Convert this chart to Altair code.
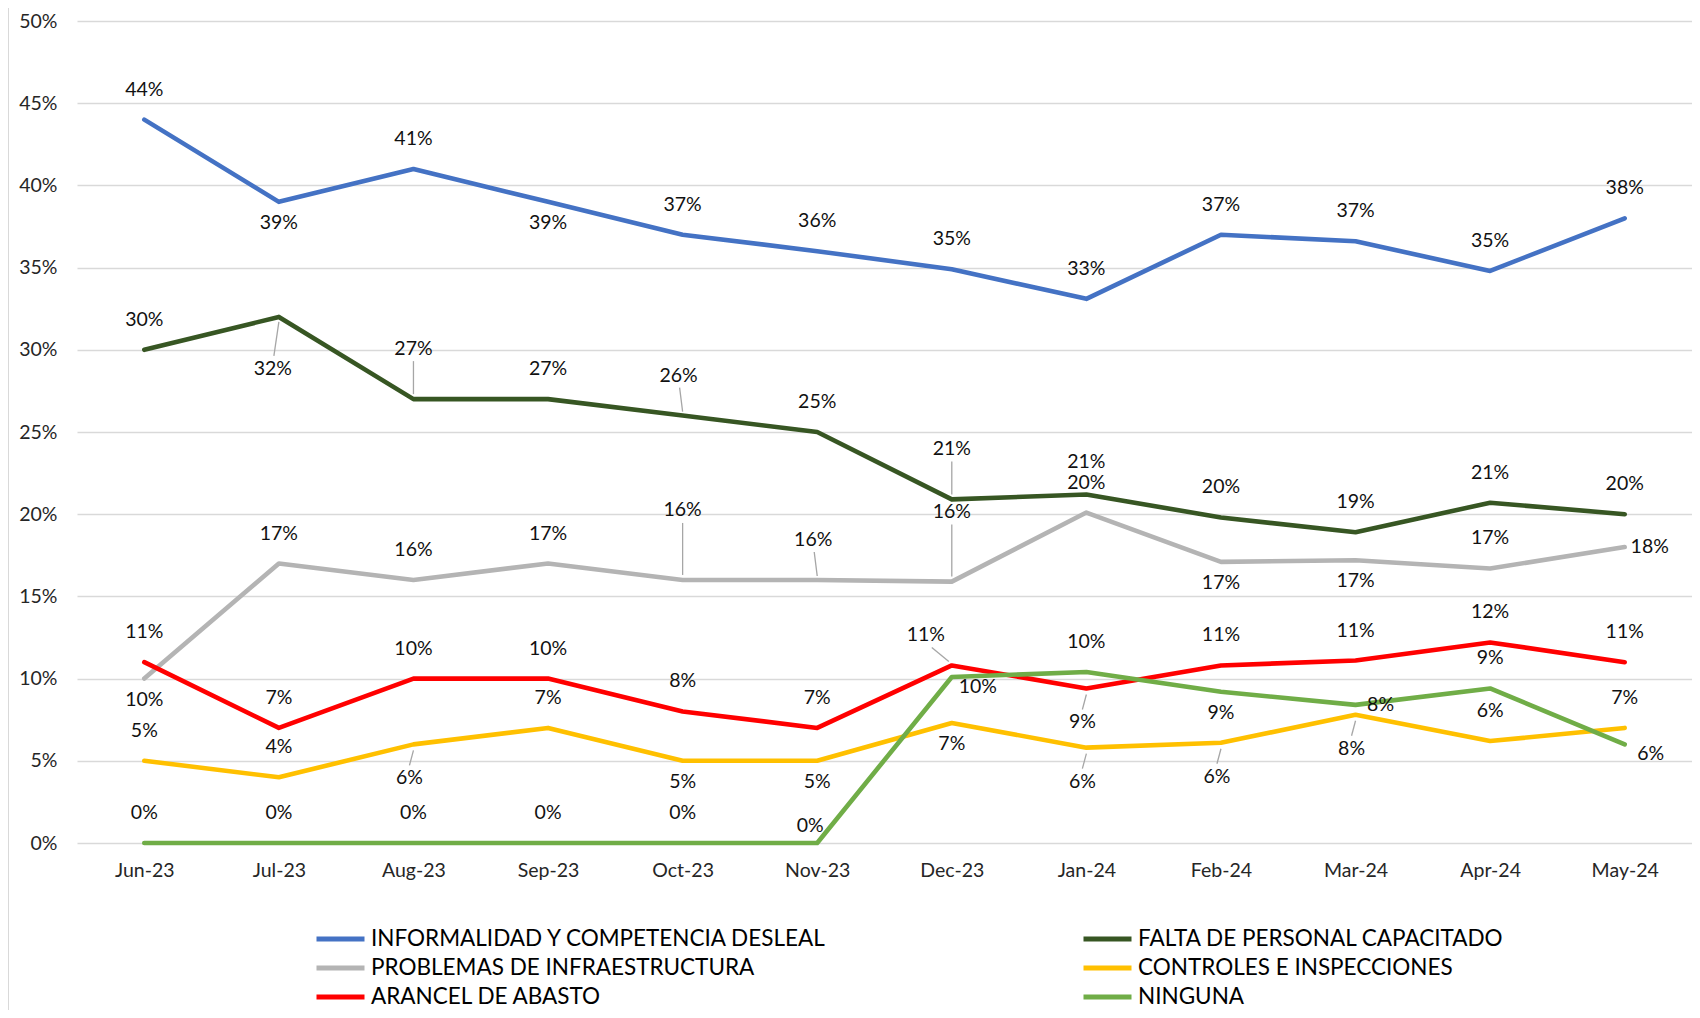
import altair as alt
import pandas as pd

months = ["Jun-23", "Jul-23", "Aug-23", "Sep-23", "Oct-23", "Nov-23",
          "Dec-23", "Jan-24", "Feb-24", "Mar-24", "Apr-24", "May-24"]

# legend order (filled column by column)
series_names = [
    "INFORMALIDAD Y COMPETENCIA DESLEAL",
    " PROBLEMAS DE INFRAESTRUCTURA",
    "ARANCEL DE ABASTO",
    "FALTA DE PERSONAL CAPACITADO",
    "CONTROLES E INSPECCIONES",
    "NINGUNA",
]
series_colors = ["#4472C4", "#B4B4B4", "#FF0000", "#375623", "#FFC000", "#70AD47"]

informalidad = [0.440, 0.390, 0.410, 0.390, 0.370, 0.360, 0.349, 0.331, 0.370, 0.366, 0.348, 0.380]
falta = [0.300, 0.320, 0.270, 0.270, 0.260, 0.250, 0.209, 0.212, 0.198, 0.189, 0.207, 0.200]
problemas = [0.100, 0.170, 0.160, 0.170, 0.160, 0.160, 0.159, 0.201, 0.171, 0.172, 0.167, 0.180]
controles = [0.050, 0.040, 0.060, 0.070, 0.050, 0.050, 0.073, 0.058, 0.061, 0.078, 0.062, 0.070]
arancel = [0.110, 0.070, 0.100, 0.100, 0.080, 0.070, 0.108, 0.094, 0.108, 0.111, 0.122, 0.110]
ninguna = [0.0, 0.0, 0.0, 0.0, 0.0, 0.0, 0.101, 0.104, 0.092, 0.084, 0.094, 0.060]

# label placement codes per point
place_informalidad = ["a", "b", "a", "b", "a", "a", "a", "a", "a", "a", "a", "a"]
place_falta = ["a", "BB", "A", "a", "m", "a", "A", "a2", "a", "a", "a", "a"]
place_problemas = ["b", "a", "a", "a", "AA", "m", "AA", "a", "b", "b", "a", "r"]
place_controles = ["a", "a", "B", "a", "b", "b", "b", "B", "B", "B", "a", "a"]
place_arancel = ["a", "a", "a", "a", "a", "a", "al", "B", "a", "a", "a", "a"]
place_ninguna = ["a", "a", "a", "a", "a", "n", "rb", "a", "b", "r", "a", "rb"]

# drawing order (Excel series order)
draw_series = [
    ("INFORMALIDAD Y COMPETENCIA DESLEAL", informalidad, place_informalidad),
    ("FALTA DE PERSONAL CAPACITADO", falta, place_falta),
    (" PROBLEMAS DE INFRAESTRUCTURA", problemas, place_problemas),
    ("CONTROLES E INSPECCIONES", controles, place_controles),
    ("ARANCEL DE ABASTO", arancel, place_arancel),
    ("NINGUNA", ninguna, place_ninguna),
]

rows = []
for k, (name, vals, pl) in enumerate(draw_series):
    for m, v, p in zip(months, vals, pl):
        rows.append({"month": m, "series": name, "value": v, "code": p, "order": k})
df = pd.DataFrame(rows)

# placement styles: code -> (dx, dy, leader)  leader=(x1, y1, x2, y2) offsets
PLACEMENT = {
    "a": (0, -30, None),
    "a2": (0, -32, None),
    "b": (0, 21, None),
    "A": (0, -50, (0, -5, 0, -38)),
    "AA": (0, -70, (0, -5, 0, -57)),
    "m": (-4, -40, (0, -4, -3, -28)),
    "B": (-4, 34, (0, 6, -4, 21)),
    "BB": (-6, 52, (0, 5, -5, 39)),
    "r": (25, 0, None),
    "rb": (26, 10, None),
    "al": (-26, -30, (-3, -4, -20, -18)),
    "n": (-7, -17, None),
}

FONT = "Lato"
X = alt.X("month:O", sort=months,
          scale=alt.Scale(type="point", padding=0.5),
          axis=alt.Axis(title=None, labelAngle=0, ticks=False, domain=False,
                        labelFontSize=19.5, labelFont=FONT, labelColor="#262626",
                        labelPadding=18, grid=False))
Y = alt.Y("value:Q",
          scale=alt.Scale(domain=[0, 0.5], nice=False, zero=True),
          axis=alt.Axis(title=None, format=".0%",
                        values=[0, 0.05, 0.1, 0.15, 0.2, 0.25, 0.3, 0.35, 0.4, 0.45, 0.5],
                        ticks=False, domain=False, grid=True, gridColor="#D9D9D9",
                        gridWidth=1.5, labelFontSize=19.5, labelFont=FONT,
                        labelColor="#262626", labelPadding=20))

base = alt.Chart(df)

lines = base.mark_line(strokeWidth=4.6, strokeJoin="round", strokeCap="round").encode(
    x=X, y=Y,
    color=alt.Color("series:N",
                    scale=alt.Scale(domain=series_names, range=series_colors),
                    legend=alt.Legend(
                        title=None, orient="none", legendX=237, legendY=904,
                        columns=2, columnPadding=253, rowPadding=1, clipHeight=28,
                        symbolType="stroke", symbolSize=2304, symbolStrokeWidth=5,
                        labelFontSize=22.5, labelFont=FONT, labelColor="#000000",
                        labelLimit=1000, labelOffset=4, padding=0)),
    detail="series:N",
    order=alt.Order("order:Q"),
)

layers = [lines]
for code, (dx, dy, leader) in PLACEMENT.items():
    sub = base.transform_filter(alt.datum.code == code)
    if leader is not None:
        x1, y1, x2, y2 = leader
        layers.append(sub.mark_rule(color="#A6A6A6", strokeWidth=1.3,
                                    xOffset=x1, yOffset=y1, x2Offset=x2, y2Offset=y2).encode(
            x=alt.X("month:O", sort=months), x2=alt.X2("month"),
            y=alt.Y("value:Q"), y2=alt.Y2("value")))
    layers.append(sub.mark_text(dx=dx, dy=dy, fontSize=19.5, font=FONT, color="#111111",
                                baseline="middle", align="center").encode(
        x=alt.X("month:O", sort=months), y=alt.Y("value:Q"),
        text=alt.Text("value:Q", format=".0%")))

border = alt.Chart(pd.DataFrame({"k": [0]})).mark_rule(color="#D9D9D9", strokeWidth=2).encode(
    x=alt.value(-69), y=alt.value(-13), y2=alt.value(989))
layers.append(border)

chart = alt.layer(*layers).properties(
    width=1615, height=822,
    autosize=alt.AutoSizeParams(type="none"),
    padding={"left": 69, "top": 13, "right": 0, "bottom": 167},
).configure_view(strokeWidth=0)

chart.save("out.html", embed_options={"renderer": "svg", "actions": False})
